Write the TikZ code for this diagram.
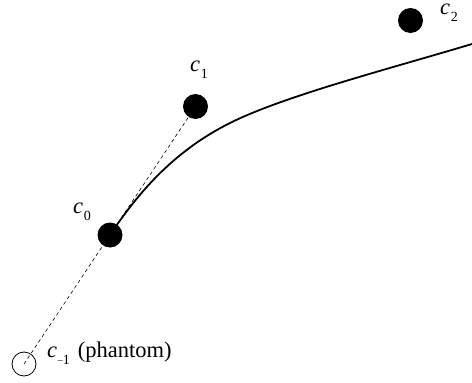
\documentclass[tikz,border=0pt]{standalone}
\usepackage{fontspec}
\setmainfont{Liberation Serif}
\newcommand\cvar[1]{\textit{c}\kern0.8pt\raisebox{-7pt}{\fontsize{14}{14}\selectfont #1}}
\begin{document}
\begin{tikzpicture}[x=1pt,y=-1pt,
  ctrl/.style={circle,fill=black,minimum size=25pt,inner sep=0pt},
  phantom/.style={circle,draw=black,line width=0.8pt,minimum size=24pt,inner sep=0pt},
  lbl/.style={inner sep=0pt,anchor=base west,font=\fontsize{22.5}{24}\selectfont},
  guide/.style={line width=0.6pt,dash pattern=on 3.5pt off 3pt},
  spline/.style={line width=1.8pt}]
\useasboundingbox (0,0) rectangle (472,383);
\node[phantom] (cm) at (24,364) {};
\node[ctrl] (c0) at (110,235) {};
\node[ctrl] (c1) at (195.5,106.5) {};
\node[ctrl] (c2) at (410.5,20.5) {};
\coordinate (m) at (230,123);
\coordinate (e) at (472,44);
\draw[guide] (cm.center) -- (c1.center);
\draw[spline] (c0.center) .. controls (140.5,189.2) and (176.4,149.8) .. (m)
  .. controls (283.6,96.2) and (385.8,69.8) .. (e);
\node[lbl] (l0) at (73,213) {\cvar{0}};
\node[lbl] (l1) at (190,71) {\cvar{1}};
\node[lbl] (l2) at (440,14) {\cvar{2}};
\node[lbl] (lm) at (47,357) {\cvar{\raisebox{0.1ex}{\fontsize{10}{10}\selectfont –}1}\hspace{8pt}(phantom)};
\end{tikzpicture}
\end{document}
